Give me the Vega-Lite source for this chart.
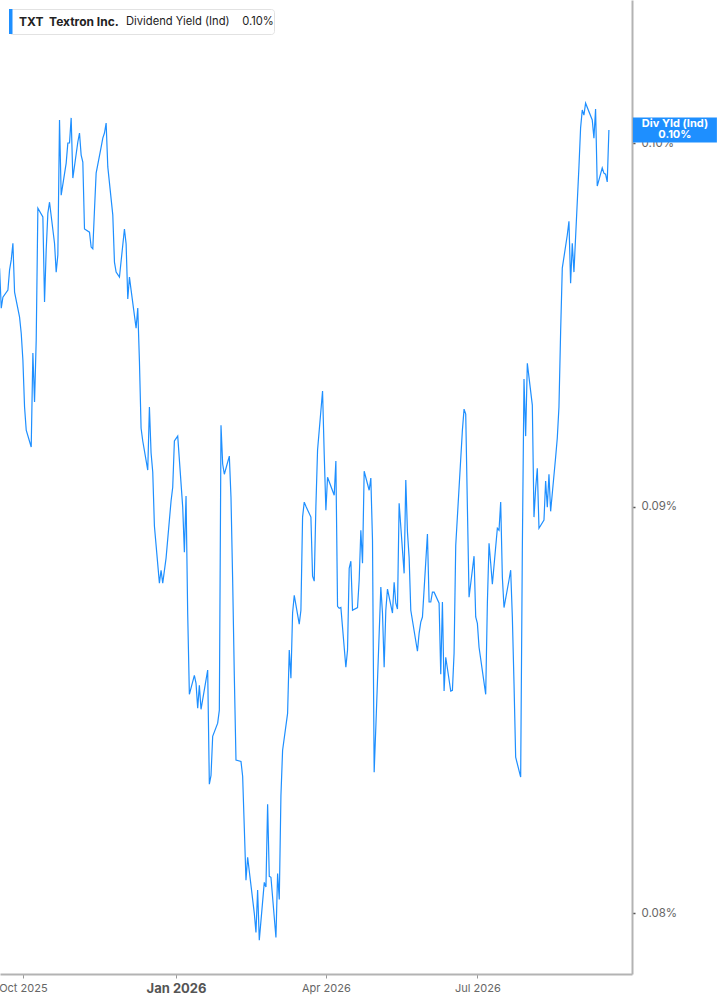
{
  "$schema": "https://vega.github.io/schema/vega-lite/v6.json",
  "width": 632,
  "height": 974,
  "autosize": {"type": "none"},
  "padding": {"left": 0, "top": 0, "right": 85, "bottom": 31},
  "background": "white",
  "config": {"view": {"stroke": null}, "font": "Inter"},
  "data": {"values": [
    {"date":"2025-09-17","yield":0.09644},{"date":"2025-09-18","yield":0.09533},{"date":"2025-09-19","yield":0.09563},
    {"date":"2025-09-22","yield":0.09583},{"date":"2025-09-23","yield":0.09639},{"date":"2025-09-24","yield":0.09667},
    {"date":"2025-09-25","yield":0.09714},{"date":"2025-09-26","yield":0.09577},{"date":"2025-09-29","yield":0.09508},
    {"date":"2025-09-30","yield":0.09464},{"date":"2025-10-01","yield":0.09391},{"date":"2025-10-02","yield":0.09264},
    {"date":"2025-10-03","yield":0.09202},{"date":"2025-10-06","yield":0.09157},{"date":"2025-10-07","yield":0.09410},
    {"date":"2025-10-08","yield":0.09277},{"date":"2025-10-09","yield":0.09445},{"date":"2025-10-10","yield":0.09813},
    {"date":"2025-10-13","yield":0.09788},{"date":"2025-10-14","yield":0.09550},{"date":"2025-10-15","yield":0.09695},
    {"date":"2025-10-16","yield":0.09799},{"date":"2025-10-17","yield":0.09830},{"date":"2025-10-20","yield":0.09714},
    {"date":"2025-10-21","yield":0.09633},{"date":"2025-10-22","yield":0.09681},{"date":"2025-10-23","yield":0.10067},
    {"date":"2025-10-24","yield":0.09850},{"date":"2025-10-27","yield":0.09942},{"date":"2025-10-28","yield":0.10000},
    {"date":"2025-10-29","yield":0.10000},{"date":"2025-10-30","yield":0.10073},{"date":"2025-10-31","yield":0.09899},
    {"date":"2025-11-03","yield":0.10003},{"date":"2025-11-04","yield":0.10029},{"date":"2025-11-05","yield":0.09965},
    {"date":"2025-11-06","yield":0.09945},{"date":"2025-11-07","yield":0.09754},{"date":"2025-11-10","yield":0.09745},
    {"date":"2025-11-11","yield":0.09703},{"date":"2025-11-12","yield":0.09698},{"date":"2025-11-13","yield":0.09808},
    {"date":"2025-11-14","yield":0.09913},{"date":"2025-11-17","yield":0.09988},{"date":"2025-11-18","yield":0.10014},
    {"date":"2025-11-19","yield":0.10029},{"date":"2025-11-20","yield":0.10058},{"date":"2025-11-21","yield":0.09931},
    {"date":"2025-11-24","yield":0.09794},{"date":"2025-11-25","yield":0.09661},{"date":"2025-11-26","yield":0.09633},
    {"date":"2025-11-28","yield":0.09619},{"date":"2025-12-01","yield":0.09754},{"date":"2025-12-02","yield":0.09712},
    {"date":"2025-12-03","yield":0.09558},{"date":"2025-12-04","yield":0.09619},{"date":"2025-12-05","yield":0.09583},
    {"date":"2025-12-08","yield":0.09478},{"date":"2025-12-09","yield":0.09533},{"date":"2025-12-10","yield":0.09388},
    {"date":"2025-12-11","yield":0.09207},{"date":"2025-12-12","yield":0.09173},{"date":"2025-12-15","yield":0.09096},
    {"date":"2025-12-16","yield":0.09264},{"date":"2025-12-17","yield":0.09141},{"date":"2025-12-18","yield":0.09091},
    {"date":"2025-12-19","yield":0.08950},{"date":"2025-12-22","yield":0.08803},{"date":"2025-12-23","yield":0.08836},
    {"date":"2025-12-24","yield":0.08803},{"date":"2025-12-26","yield":0.08867},{"date":"2025-12-29","yield":0.09015},
    {"date":"2025-12-30","yield":0.09051},{"date":"2025-12-31","yield":0.09173},{"date":"2026-01-02","yield":0.09186},
    {"date":"2026-01-05","yield":0.08999},{"date":"2026-01-06","yield":0.08882},{"date":"2026-01-07","yield":0.09028},
    {"date":"2026-01-08","yield":0.08724},{"date":"2026-01-09","yield":0.08524},{"date":"2026-01-12","yield":0.08571},
    {"date":"2026-01-13","yield":0.08551},{"date":"2026-01-14","yield":0.08490},{"date":"2026-01-15","yield":0.08546},
    {"date":"2026-01-16","yield":0.08487},{"date":"2026-01-20","yield":0.08584},{"date":"2026-01-21","yield":0.08305},
    {"date":"2026-01-22","yield":0.08326},{"date":"2026-01-23","yield":0.08421},{"date":"2026-01-26","yield":0.08453},
    {"date":"2026-01-27","yield":0.08485},{"date":"2026-01-28","yield":0.09215},{"date":"2026-01-29","yield":0.09112},
    {"date":"2026-01-30","yield":0.09085},{"date":"2026-02-02","yield":0.09133},{"date":"2026-02-03","yield":0.09025},
    {"date":"2026-02-04","yield":0.08811},{"date":"2026-02-05","yield":0.08569},{"date":"2026-02-06","yield":0.08363},
    {"date":"2026-02-09","yield":0.08360},{"date":"2026-02-10","yield":0.08324},{"date":"2026-02-11","yield":0.08200},
    {"date":"2026-02-12","yield":0.08077},{"date":"2026-02-13","yield":0.08131},{"date":"2026-02-17","yield":0.08000},
    {"date":"2026-02-18","yield":0.07956},{"date":"2026-02-19","yield":0.08054},{"date":"2026-02-20","yield":0.07938},
    {"date":"2026-02-23","yield":0.08072},{"date":"2026-02-24","yield":0.08061},{"date":"2026-02-25","yield":0.08257},
    {"date":"2026-02-26","yield":0.08086},{"date":"2026-02-27","yield":0.08084},{"date":"2026-03-02","yield":0.07944},
    {"date":"2026-03-03","yield":0.08093},{"date":"2026-03-04","yield":0.08032},{"date":"2026-03-05","yield":0.08278},
    {"date":"2026-03-06","yield":0.08387},{"date":"2026-03-09","yield":0.08477},{"date":"2026-03-10","yield":0.08634},
    {"date":"2026-03-11","yield":0.08564},{"date":"2026-03-12","yield":0.08727},{"date":"2026-03-13","yield":0.08772},
    {"date":"2026-03-16","yield":0.08699},{"date":"2026-03-17","yield":0.08734},{"date":"2026-03-18","yield":0.08973},
    {"date":"2026-03-19","yield":0.09012},{"date":"2026-03-20","yield":0.09001},{"date":"2026-03-23","yield":0.08973},
    {"date":"2026-03-24","yield":0.08821},{"date":"2026-03-25","yield":0.08808},{"date":"2026-03-26","yield":0.09001},
    {"date":"2026-03-27","yield":0.09149},{"date":"2026-03-30","yield":0.09307},{"date":"2026-03-31","yield":0.09138},
    {"date":"2026-04-01","yield":0.08991},{"date":"2026-04-02","yield":0.09077},{"date":"2026-04-06","yield":0.09030},
    {"date":"2026-04-07","yield":0.09120},{"date":"2026-04-08","yield":0.08744},{"date":"2026-04-09","yield":0.08739},
    {"date":"2026-04-10","yield":0.08741},{"date":"2026-04-13","yield":0.08591},{"date":"2026-04-14","yield":0.08634},
    {"date":"2026-04-15","yield":0.08841},{"date":"2026-04-16","yield":0.08859},{"date":"2026-04-17","yield":0.08734},
    {"date":"2026-04-20","yield":0.08741},{"date":"2026-04-21","yield":0.08811},{"date":"2026-04-22","yield":0.08939},
    {"date":"2026-04-23","yield":0.08854},{"date":"2026-04-24","yield":0.09093},{"date":"2026-04-27","yield":0.09043},
    {"date":"2026-04-28","yield":0.09075},{"date":"2026-04-29","yield":0.08913},{"date":"2026-04-30","yield":0.08334},
    {"date":"2026-05-01","yield":0.08443},{"date":"2026-05-04","yield":0.08793},{"date":"2026-05-05","yield":0.08727},
    {"date":"2026-05-06","yield":0.08591},{"date":"2026-05-07","yield":0.08734},{"date":"2026-05-08","yield":0.08788},
    {"date":"2026-05-11","yield":0.08727},{"date":"2026-05-12","yield":0.08805},{"date":"2026-05-13","yield":0.08752},
    {"date":"2026-05-14","yield":0.08737},{"date":"2026-05-15","yield":0.09009},{"date":"2026-05-18","yield":0.08828},
    {"date":"2026-05-19","yield":0.09070},{"date":"2026-05-20","yield":0.08934},{"date":"2026-05-21","yield":0.08869},
    {"date":"2026-05-22","yield":0.08734},{"date":"2026-05-26","yield":0.08631},{"date":"2026-05-27","yield":0.08676},
    {"date":"2026-05-28","yield":0.08704},{"date":"2026-05-29","yield":0.08717},{"date":"2026-06-01","yield":0.08929},
    {"date":"2026-06-02","yield":0.08755},{"date":"2026-06-03","yield":0.08755},{"date":"2026-06-04","yield":0.08780},
    {"date":"2026-06-05","yield":0.08780},{"date":"2026-06-08","yield":0.08752},{"date":"2026-06-09","yield":0.08574},
    {"date":"2026-06-10","yield":0.08755},{"date":"2026-06-11","yield":0.08532},{"date":"2026-06-12","yield":0.08616},
    {"date":"2026-06-15","yield":0.08532},{"date":"2026-06-16","yield":0.08534},{"date":"2026-06-17","yield":0.08626},
    {"date":"2026-06-18","yield":0.08900},{"date":"2026-06-22","yield":0.09202},{"date":"2026-06-23","yield":0.09258},
    {"date":"2026-06-24","yield":0.09245},{"date":"2026-06-25","yield":0.08999},{"date":"2026-06-26","yield":0.08767},
    {"date":"2026-06-29","yield":0.08872},{"date":"2026-06-30","yield":0.08717},{"date":"2026-07-01","yield":0.08701},
    {"date":"2026-07-02","yield":0.08641},{"date":"2026-07-06","yield":0.08524},{"date":"2026-07-07","yield":0.08752},
    {"date":"2026-07-08","yield":0.08905},{"date":"2026-07-09","yield":0.08854},{"date":"2026-07-10","yield":0.08800},
    {"date":"2026-07-13","yield":0.08944},{"date":"2026-07-14","yield":0.08939},{"date":"2026-07-15","yield":0.09012},
    {"date":"2026-07-16","yield":0.08818},{"date":"2026-07-17","yield":0.08741},{"date":"2026-07-20","yield":0.08811},
    {"date":"2026-07-21","yield":0.08836},{"date":"2026-07-22","yield":0.08717},{"date":"2026-07-23","yield":0.08551},
    {"date":"2026-07-24","yield":0.08370},{"date":"2026-07-27","yield":0.08322},{"date":"2026-07-28","yield":0.08887},
    {"date":"2026-07-29","yield":0.09339},{"date":"2026-07-30","yield":0.09186},{"date":"2026-07-31","yield":0.09382},
    {"date":"2026-08-03","yield":0.09269},{"date":"2026-08-04","yield":0.08973},{"date":"2026-08-05","yield":0.09048},
    {"date":"2026-08-06","yield":0.09101},{"date":"2026-08-07","yield":0.08944},{"date":"2026-08-10","yield":0.08965},
    {"date":"2026-08-11","yield":0.09067},{"date":"2026-08-12","yield":0.08999},{"date":"2026-08-13","yield":0.09085},
    {"date":"2026-08-14","yield":0.08988},{"date":"2026-08-17","yield":0.09130},{"date":"2026-08-18","yield":0.09181},
    {"date":"2026-08-19","yield":0.09264},{"date":"2026-08-20","yield":0.09467},{"date":"2026-08-21","yield":0.09644},
    {"date":"2026-08-24","yield":0.09737},{"date":"2026-08-25","yield":0.09776},{"date":"2026-08-26","yield":0.09602},
    {"date":"2026-08-27","yield":0.09714},{"date":"2026-08-28","yield":0.09633},{"date":"2026-08-31","yield":0.09931},
    {"date":"2026-09-01","yield":0.10044},{"date":"2026-09-02","yield":0.10096},{"date":"2026-09-03","yield":0.10081},
    {"date":"2026-09-04","yield":0.10116},{"date":"2026-09-08","yield":0.10067},{"date":"2026-09-09","yield":0.10014},
    {"date":"2026-09-10","yield":0.10099},{"date":"2026-09-11","yield":0.09876},{"date":"2026-09-14","yield":0.09928},
    {"date":"2026-09-15","yield":0.09913},{"date":"2026-09-16","yield":0.09910},{"date":"2026-09-17","yield":0.09888},
    {"date":"2026-09-18","yield":0.10038}
  ]},
  "layer": [
    {
      "mark": {"type": "line", "strokeWidth": 1.2, "clip": true},
      "encoding": {
        "x": {
          "field": "date", "type": "temporal",
          "scale": {"type": "utc", "domain": [
            {"year": 2025, "month": 9, "date": 17, "hours": 6, "utc": true},
            {"year": 2026, "month": 10, "date": 1, "hours": 21, "utc": true}
          ]},
          "axis": {
            "title": null, "grid": false,
            "values": [
              {"year": 2025, "month": 10, "date": 1, "utc": true},
              {"year": 2026, "month": 1, "date": 1, "utc": true},
              {"year": 2026, "month": 4, "date": 1, "utc": true},
              {"year": 2026, "month": 7, "date": 1, "utc": true}
            ],
            "labelExpr": "utcFormat(datum.value, '%b %Y')",
            "labelFontWeight": {"condition": {"test": "utcmonth(datum.value) === 0", "value": "bold"}, "value": "normal"},
            "labelFontSize": {"condition": {"test": "utcmonth(datum.value) === 0", "value": 13}, "value": 11},
            "labelColor": {"condition": {"test": "utcmonth(datum.value) === 0", "value": "#555"}, "value": "#666"},
            "labelFont": "Inter",
            "labelFlush": false, "labelOverlap": false, "labelPadding": 4,
            "domainColor": "#b3b3b3", "domainWidth": 2,
            "tickColor": "#999", "tickSize": 4, "tickWidth": 1
          }
        },
        "y": {
          "field": "yield", "type": "quantitative",
          "scale": {"type": "log", "domain": [0.078606, 0.10423], "nice": false, "zero": false},
          "axis": {
            "orient": "right", "title": null, "grid": false,
            "values": [0.08, 0.09, 0.1], "format": ".2f",
            "labelExpr": "datum.label + '%'",
            "labelFont": "Inter", "labelFontSize": 11.5, "labelColor": "#666", "labelPadding": 6,
            "domainColor": "#b3b3b3", "domainWidth": 2,
            "tickColor": "#555", "tickSize": 3, "tickWidth": 1.5
          }
        },
        "color": {
          "datum": "TXT\u00a0\u00a0Textron Inc.", "type": "nominal",
          "scale": {"range": ["#1e8fff"]},
          "legend": {
            "orient": "top-left", "offset": 9,
            "title": "Dividend Yield (Ind)\u00a0\u00a0\u00a0\u00a00.10%\u00a0\u00a0",
            "titleOrient": "right", "titleAnchor": "middle", "titleBaseline": "middle",
            "titleFont": "Inter", "titleFontWeight": "normal", "titleFontSize": 11.2,
            "titleColor": "#222", "titlePadding": 7, "titleLimit": 400,
            "labelFont": "Inter", "labelFontWeight": "bold", "labelFontSize": 12, "labelColor": "#222",
            "labelOffset": -15, "labelLimit": 300,
            "symbolType": "M-1,-1H-0.72V1H-1Z", "symbolSize": 625,
            "symbolFillColor": "#1e8fff", "symbolStrokeWidth": 0, "symbolOpacity": 1,
            "fillColor": "white", "strokeColor": "#e2e2e2", "cornerRadius": 3, "padding": 0
          }
        }
      }
    },
    {
      "transform": [
        {"window": [{"op": "row_number", "as": "rn"}], "sort": [{"field": "date", "order": "descending"}]},
        {"filter": "datum.rn === 1"}
      ],
      "mark": {"type": "rect", "width": 84, "height": 25, "xOffset": 66, "color": "#1e8fff", "clip": false},
      "encoding": {
        "x": {"field": "date", "type": "temporal"},
        "y": {"field": "yield", "type": "quantitative"}
      }
    },
    {
      "transform": [
        {"window": [{"op": "row_number", "as": "rn"}], "sort": [{"field": "date", "order": "descending"}]},
        {"filter": "datum.rn === 1"}
      ],
      "mark": {"type": "text", "xOffset": 66, "dy": -5.5, "color": "white", "font": "Inter", "fontWeight": "bold",
               "fontSize": 11, "align": "center", "baseline": "middle", "lineHeight": 11, "clip": false},
      "encoding": {
        "x": {"field": "date", "type": "temporal"},
        "y": {"field": "yield", "type": "quantitative"},
        "text": {"value": ["Div Yld (Ind)", "0.10%"]}
      }
    }
  ]
}
